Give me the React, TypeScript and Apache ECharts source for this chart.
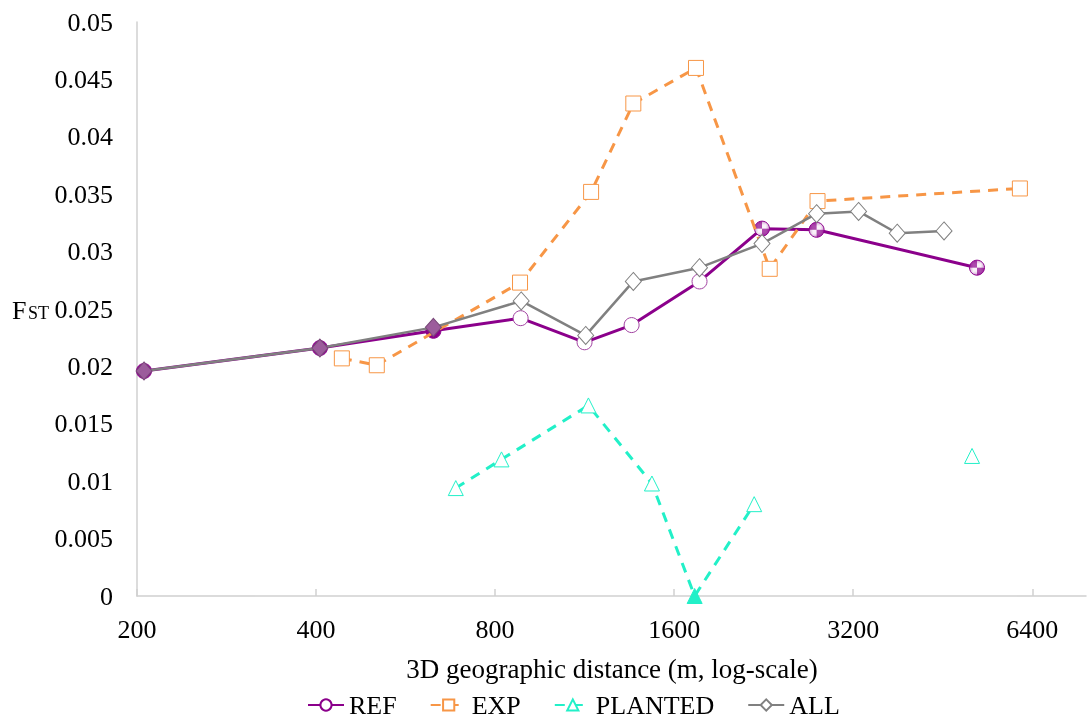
import React, { useEffect, useRef } from 'react';
import * as echarts from 'echarts';

// Tick labels (distance in metres, log2 axis)
const xTickLabels = [200, 400, 800, 1600, 3200, 6400];

// REF
const refDist = [205.5, 406, 630, 883, 1131, 1357, 1765, 2248, 2777, 5167];
const refFst = [0.0196, 0.0216, 0.0231, 0.0242, 0.0221, 0.0236, 0.0274, 0.0320, 0.0319, 0.0286];

// EXP
const expDist = [442, 506, 881, 1160, 1366, 1741, 2316, 2787, 6100];
const expFst = [0.0207, 0.0201, 0.0273, 0.0352, 0.0429, 0.0460, 0.0285, 0.0344, 0.0355];

// PLANTED (gap between the last two points)
const plDist = [687, 820, 1148, 1468, 1732, 2181, 5069];
const plFst = [0.0094, 0.0119, 0.0166, 0.0098, 0.0, 0.0080, 0.0122];

// ALL
const allDist = [205.5, 406, 630, 885, 1136, 1366, 1765, 2248, 2777, 3267, 3794, 4548];
const allFst = [0.0196, 0.0216, 0.0234, 0.0257, 0.0227, 0.0274, 0.0286, 0.0307, 0.0333, 0.0335, 0.0316, 0.0318];

const toX = (d: number) => Math.log2(d / 200);

const PURPLE = '#8B008B';
const ORANGE = '#F79646';
const AQUA = '#22F0C8';
const GRAY = '#808080';
const FONT = '"Liberation Serif", "Times New Roman", serif';

export default function App() {
  const ref = useRef<HTMLDivElement>(null);

  useEffect(() => {
    const chart = echarts.init(ref.current!, null, { renderer: 'svg' });

    const hatch = document.createElement('canvas');
    hatch.width = 4;
    hatch.height = 4;
    const ctx = hatch.getContext('2d')!;
    ctx.fillStyle = PURPLE;
    ctx.fillRect(0, 0, 4, 4);
    ctx.strokeStyle = '#ffffff';
    ctx.lineWidth = 1.1;
    ctx.beginPath();
    ctx.moveTo(0, 4); ctx.lineTo(4, 0);
    ctx.moveTo(-2, 2); ctx.lineTo(2, -2);
    ctx.moveTo(2, 6); ctx.lineTo(6, 2);
    ctx.stroke();
    const hatchPattern: any = { image: hatch, repeat: 'repeat' };

    const refData = refDist.map((d, i) => {
      let itemStyle: any;
      if (i < 3) itemStyle = { color: PURPLE, borderColor: PURPLE, borderWidth: 1 };
      else if (i < 7) itemStyle = { color: '#ffffff', borderColor: '#A040A0', borderWidth: 1 };
      else itemStyle = { color: hatchPattern, borderColor: PURPLE, borderWidth: 1 };
      return { value: [toX(d), refFst[i]], itemStyle };
    });

    const expData = expDist.map((d, i) => [toX(d), expFst[i]]);

    const plData: any[] = [];
    plDist.forEach((d, i) => {
      if (i === plDist.length - 1) plData.push(['-', '-']);
      const item: any = { value: [toX(d), plFst[i]] };
      if (plFst[i] === 0) item.itemStyle = { color: AQUA, borderColor: AQUA };
      plData.push(item);
    });

    const allData = allDist.map((d, i) => {
      const item: any = { value: [toX(d), allFst[i]] };
      if (i < 3) item.itemStyle = { color: '#9C5C9C', borderColor: '#7a4a7a' };
      return item;
    });

    const tickVals = xTickLabels.map((t) => toX(t));

    chart.setOption({
      animation: false,
      grid: { left: 137, right: 1, top: 22, bottom: 124, containLabel: false },
      legend: {
        left: 307,
        top: 692,
        itemWidth: 36,
        itemHeight: 14,
        itemGap: 33,
        padding: 0,
        textStyle: { fontFamily: FONT, fontSize: 26, lineHeight: 24, color: '#000' },
        data: ['REF', 'EXP', 'PLANTED', 'ALL'],
      },
      xAxis: {
        type: 'value',
        min: 0,
        max: 5.3,
        axisLine: { show: true, lineStyle: { color: '#d0d0d0', width: 1.5 } },
        axisTick: { show: true, inside: true, length: 7, customValues: tickVals, lineStyle: { color: '#d0d0d0', width: 1.5 } },
        axisLabel: {
          customValues: tickVals,
          margin: 20,
          fontFamily: FONT,
          fontSize: 26,
          color: '#000',
          formatter: (v: number) => String(Math.round(200 * Math.pow(2, v))),
        },
        splitLine: { show: false },
      },
      yAxis: {
        type: 'value',
        min: 0,
        max: 0.05,
        interval: 0.005,
        axisLine: { show: true, lineStyle: { color: '#d0d0d0', width: 1.5 } },
        axisTick: { show: false },
        axisLabel: { margin: 24, fontFamily: FONT, fontSize: 26, color: '#000' },
        splitLine: { show: false },
      },
      graphic: [
        {
          type: 'text',
          x: 612,
          y: 669,
          style: {
            text: '3D geographic distance (m, log-scale)',
            font: `27px ${FONT}`,
            fill: '#000',
            align: 'center',
            verticalAlign: 'middle',
          },
        },
        {
          type: 'text',
          x: 12,
          y: 310,
          style: { text: 'F', font: `26px ${FONT}`, fill: '#000', verticalAlign: 'middle' },
        },
        {
          type: 'text',
          x: 28,
          y: 313,
          style: { text: 'ST', font: `18px ${FONT}`, fill: '#000', verticalAlign: 'middle' },
        },
      ],
      series: [
        {
          name: 'REF',
          type: 'line',
          data: refData,
          symbol: 'circle',
          symbolSize: 15,
          lineStyle: { color: PURPLE, width: 3 },
          itemStyle: { color: '#ffffff', borderColor: PURPLE, borderWidth: 1 },
          z: 2,
        },
        {
          name: 'EXP',
          type: 'line',
          data: expData,
          symbol: 'rect',
          symbolSize: 15,
          lineStyle: { color: ORANGE, width: 3, type: [10, 8] },
          itemStyle: { color: '#ffffff', borderColor: ORANGE, borderWidth: 1 },
          z: 3,
        },
        {
          name: 'PLANTED',
          type: 'line',
          data: plData,
          connectNulls: false,
          symbol: 'triangle',
          symbolSize: 15,
          lineStyle: { color: AQUA, width: 3, type: [10, 8] },
          itemStyle: { color: '#ffffff', borderColor: AQUA, borderWidth: 1 },
          z: 3,
        },
        {
          name: 'ALL',
          type: 'line',
          data: allData,
          symbol: 'diamond',
          symbolSize: [16, 18],
          lineStyle: { color: GRAY, width: 2.5 },
          itemStyle: { color: '#ffffff', borderColor: GRAY, borderWidth: 1 },
          z: 4,
        },
      ],
    });

    return () => chart.dispose();
  }, []);

  return <div ref={ref} style={{ position: 'fixed', left: 0, top: 0, width: 1087, height: 720 }} />;
}
